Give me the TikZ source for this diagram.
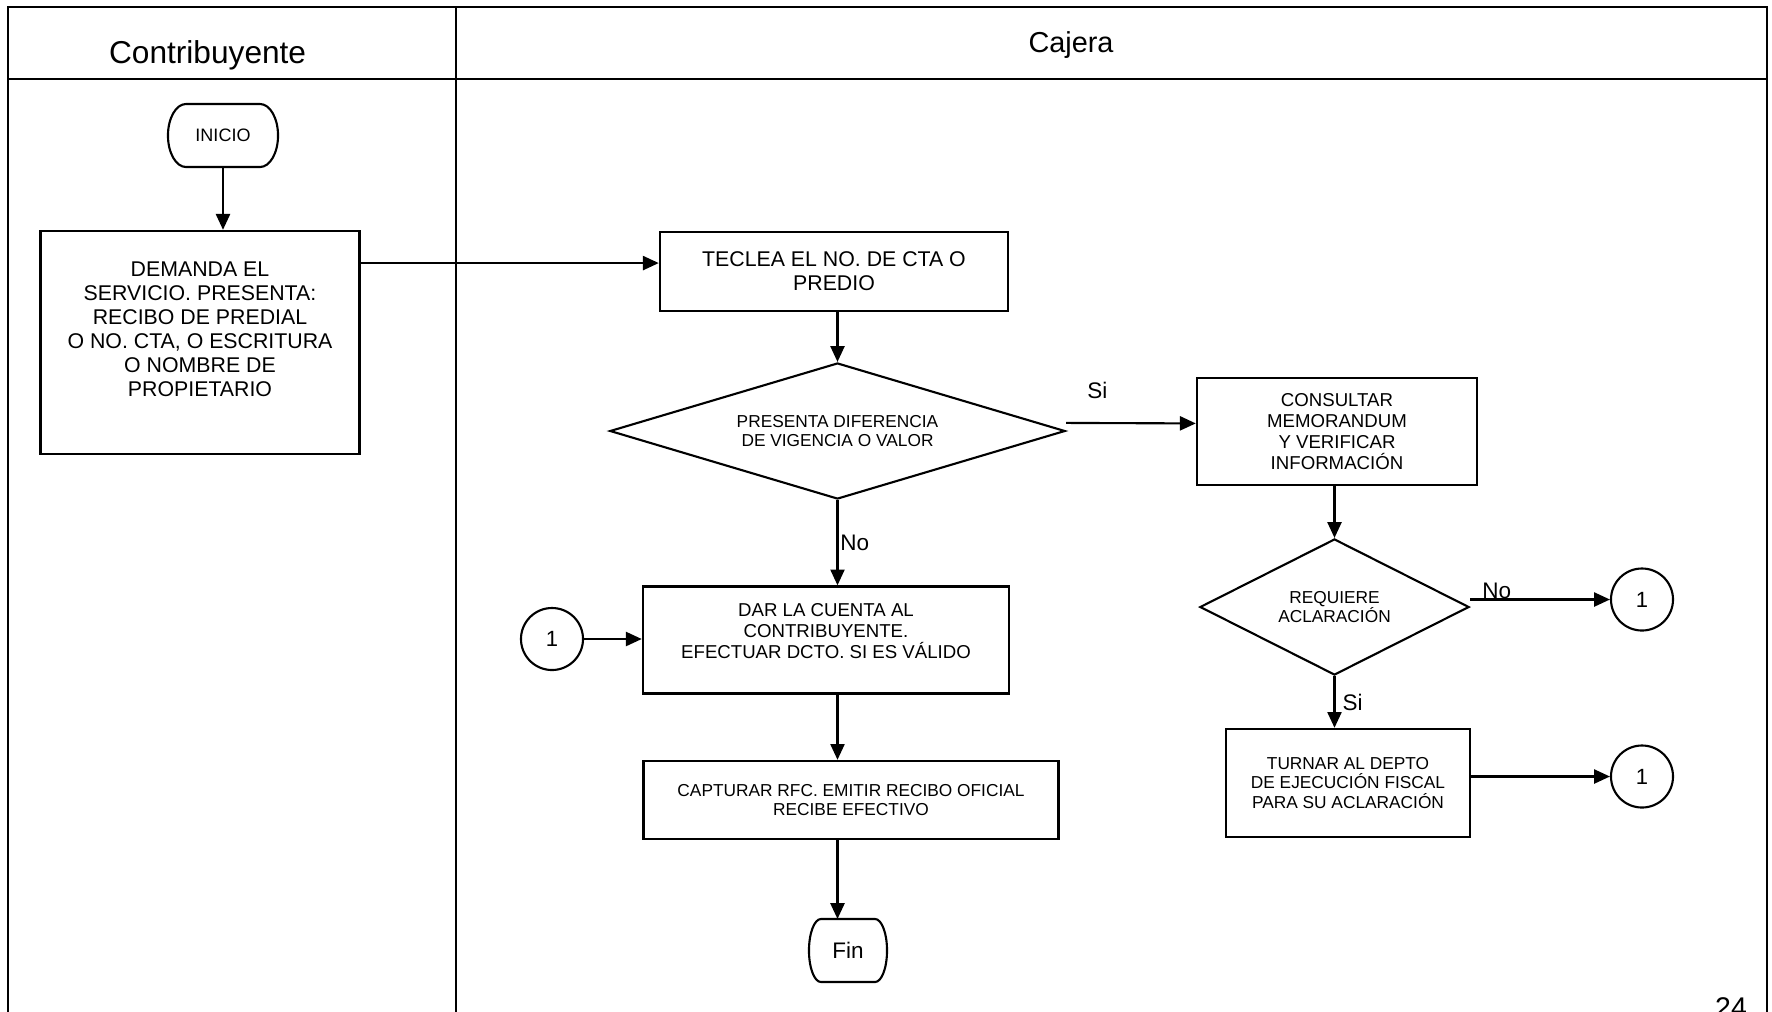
\documentclass[tikz,border=0pt]{standalone}
\usepackage{fontspec}
\setmainfont{Liberation Sans}
\usetikzlibrary{arrows.meta, shapes.geometric}

\newcommand{\txtbox}{\fontsize{6.06pt}{6.8pt}\selectfont}
\newcommand{\txtmid}{\fontsize{5.3pt}{6.05pt}\selectfont}
\newcommand{\txtsmall}{\fontsize{4.92pt}{5.65pt}\selectfont}
\newcommand{\txtlbl}{\fontsize{6.4pt}{7pt}\selectfont}

\begin{document}
\begin{tikzpicture}[x=0.01cm, y=-0.01cm,
    lane/.style={line width=0.55pt},
    proc/.style={draw, rectangle, line width=0.65pt, inner sep=0pt, align=center},
    boxtext/.style={align=center, inner sep=0pt},
    decision/.style={draw, diamond, line width=0.6pt, inner sep=0pt, align=center},
    term/.style={rectangle, inner sep=0pt, outer sep=0pt},
    termline/.style={line width=0.6pt},
    conn/.style={draw, circle, line width=0.6pt, minimum size=0.62cm, inner sep=0pt, font=\fontsize{6.26pt}{7pt}\selectfont},
    flow/.style={line width=0.6pt, -{Triangle[length=4.5pt, width=4pt]}},
    lbl/.style={font=\txtlbl, inner sep=0.5pt}]

   \useasboundingbox (0,0) rectangle (1772,1011);
   \clip (0,0) rectangle (1772,1011);

   % Swimlanes
   \draw[lane] (8,1040) -- (8,7.3) -- (1767,7.3) -- (1767,1040);
   \draw[lane] (8,79.3) -- (1767,79.3);
   \draw[lane] (456,7.3) -- (456,1040);
   \node[font=\fontsize{9pt}{11pt}\selectfont, anchor=base] (hcontrib) at (207.6,63.3) {Contribuyente};
   \node[font=\fontsize{8.2pt}{10pt}\selectfont, anchor=base] (hcajera) at (1071,52.3) {Cajera};

   % Contribuyente lane
   \node[term, minimum width=1.10cm, minimum height=0.63cm, font=\fontsize{5.12pt}{6pt}\selectfont] (inicio) at (223,135.5) {INICIO};
   \node[proc, minimum width=3.19cm, minimum height=2.23cm,
         label={[boxtext, font=\txtbox, yshift=3.8pt]center:{DEMANDA EL\\SERVICIO. PRESENTA:\\RECIBO DE PREDIAL\\O NO. CTA, O ESCRITURA\\O NOMBRE DE\\PROPIETARIO}}] (demanda) at (200,342.5) {};

   % Cajera lane
   \node[proc, minimum width=3.48cm, minimum height=0.79cm, font=\txtbox] (teclea) at (834,271.5) {TECLEA EL NO. DE CTA O\\PREDIO};
   \node[decision, aspect=3.35, minimum width=4.55cm, minimum height=1.36cm, font=\txtsmall] (difer) at (837.5,431) {PRESENTA DIFERENCIA\\DE VIGENCIA O VALOR};
   \node[proc, minimum width=2.80cm, minimum height=1.07cm, font=\txtmid] (consultar) at (1337,431.5) {CONSULTAR\\MEMORANDUM\\Y VERIFICAR\\INFORMACIÓN};
   \node[decision, aspect=1.98, minimum width=2.69cm, minimum height=1.36cm, font=\txtsmall] (aclara) at (1334.5,607) {REQUIERE\\ACLARACIÓN};
   \node[proc, minimum width=3.66cm, minimum height=1.07cm,
         label={[boxtext, font=\txtmid, yshift=2.6pt]center:{DAR LA CUENTA AL\\CONTRIBUYENTE.\\EFECTUAR DCTO. SI ES VÁLIDO}}] (cuenta) at (826,640) {};
   \node[proc, minimum width=4.15cm, minimum height=0.78cm, font=\txtsmall] (capturar) at (851,800) {CAPTURAR RFC. EMITIR RECIBO OFICIAL\\RECIBE EFECTIVO};
   \node[term, minimum width=0.78cm, minimum height=0.63cm, font=\fontsize{6.4pt}{7pt}\selectfont] (fin) at (848,950.5) {Fin};
   \node[proc, minimum width=2.44cm, minimum height=1.08cm, font=\txtsmall] (turnar) at (1348,783) {TURNAR AL DEPTO\\DE EJECUCIÓN FISCAL\\PARA SU ACLARACIÓN};

   % Terminal outlines (flat top and bottom, bulging sides)
   \foreach \t/\r in {inicio/0.18cm, fin/0.12cm}
     \draw[termline] ([xshift=\r]\t.north west) -- ([xshift=-\r]\t.north east)
       arc[start angle=90, end angle=-90, x radius=\r, y radius=0.315cm]
       -- ([xshift=\r]\t.south west)
       arc[start angle=270, end angle=90, x radius=\r, y radius=0.315cm] -- cycle;

   % Connectors
   \node[conn] (c1) at (552,639) {1};
   \node[conn] (c2) at (1642,599.5) {1};
   \node[conn] (c3) at (1642,776.5) {1};

   % Page number
   \node[font=\fontsize{8.1pt}{9pt}\selectfont, anchor=base] (pagina) at (1731,1017) {24};

   % Transitions
   \path[flow]
    (inicio.south) edge (inicio.south |- demanda.north)
    ([yshift=2.4pt]demanda.east |- teclea.west) edge ([yshift=2.4pt]teclea.west)
    (teclea.south -| difer.north) edge (difer.north)
    ([yshift=2.3pt]difer.east) edge node[lbl, above=6pt, pos=0.24] {Si} ([yshift=2.3pt]consultar.west)
    (difer.south) edge node[lbl, right, pos=0.5] {No} (difer.south |- cuenta.north)
    (consultar.south -| aclara.north) edge (aclara.north)
    (aclara.east |- c2.west) edge node[lbl, above, inner sep=0pt, pos=0.19] {No} (c2.west)
    (aclara.south) edge node[lbl, right=1.5pt, pos=0.5] {Si} (aclara.south |- turnar.north)
    (turnar.east |- c3.west) edge (c3.west)
    (c1.east) edge (c1.east -| cuenta.west)
    (cuenta.south -| difer.south) edge (capturar.north -| difer.south)
    (capturar.south -| difer.south) edge (fin.north -| difer.south);
\end{tikzpicture}
\end{document}
